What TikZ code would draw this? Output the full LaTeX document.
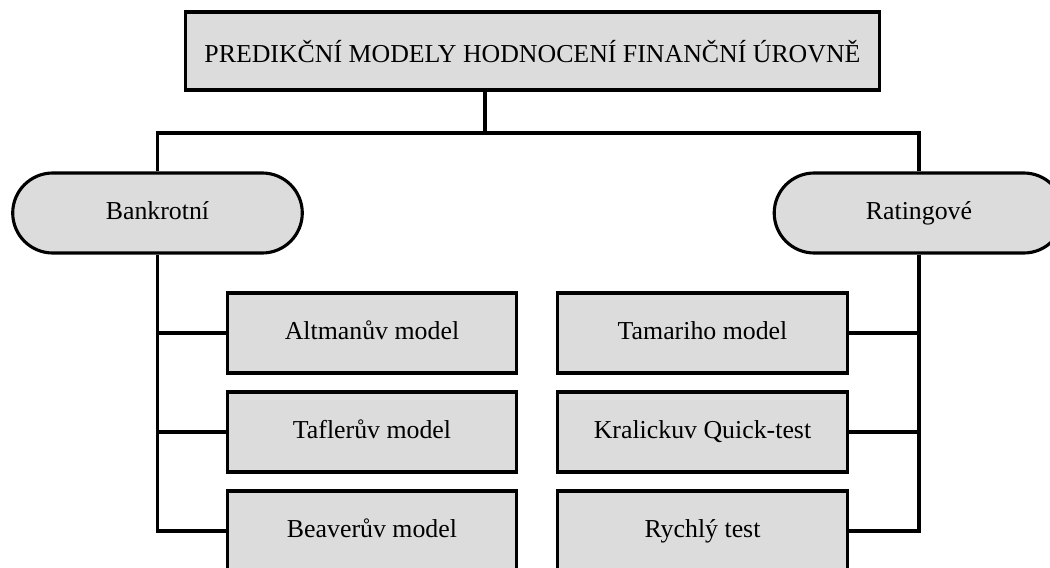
\documentclass[tikz,border=0pt]{standalone}
\usepackage{fontspec}
\setmainfont{Liberation Serif}
\usepackage{xcolor}
\usepackage{tikz}
\usetikzlibrary{positioning,shapes.misc}

\definecolor{boxgray}{RGB}{220,220,220}

\begin{document}
\begin{tikzpicture}[
  x=0.48pt, y=-0.48pt,
  font=\fontsize{12.4}{14}\selectfont,
  box/.style={rectangle, draw, fill=boxgray, line width=1.5pt,
              minimum width=139pt, minimum height=38.4pt,
              text height=8.6pt, text depth=2.6pt,
              inner sep=0pt, text centered},
  pill/.style={rounded rectangle, draw, fill=boxgray, line width=1.5pt,
               minimum width=139pt, minimum height=38.4pt,
               text height=8.6pt, text depth=2.6pt, inner sep=0pt},
  link/.style={line width=1.5pt},
]
\useasboundingbox (0,0) rectangle (1050,567);
\clip (0,0) rectangle (1050,567);

% Title
\node[box, minimum width=333pt, minimum height=37.4pt, text height=14pt]
  (title) at (532.5,51) {PREDIKČNÍ MODELY HODNOCENÍ FINANČNÍ ÚROVNĚ};

% Two groups
\node[pill] (bank) at (157.5,213) {Bankrotní};
\node[pill] (rating) at (919,213) {Ratingové};

% Bankruptcy models
\node[box] (altman) at (372,333) {Altmanův model};
\node[box] (tafler) at (372,432) {Taflerův model};
\node[box] (beaver) at (372,531) {Beaverův model};

% Rating models
\node[box] (tamari) at (702.5,333) {Tamariho model};
\node[box] (kralicek) at (702.5,432) {Kralickuv Quick-test};
\node[box] (rychly) at (702.5,531) {Rychlý test};

% Connectors
\coordinate (split) at (485,133);
\draw[link] (title.south -| split) -- (split);
\draw[link] (bank.north) |- (split) -| (rating.north);

\draw[link] (bank.south) |- (beaver.west);
\draw[link] (bank.south |- altman.west) -- (altman.west);
\draw[link] (bank.south |- tafler.west) -- (tafler.west);

\draw[link] (rating.south) |- (rychly.east);
\draw[link] (rating.south |- tamari.east) -- (tamari.east);
\draw[link] (rating.south |- kralicek.east) -- (kralicek.east);

\end{tikzpicture}
\end{document}
